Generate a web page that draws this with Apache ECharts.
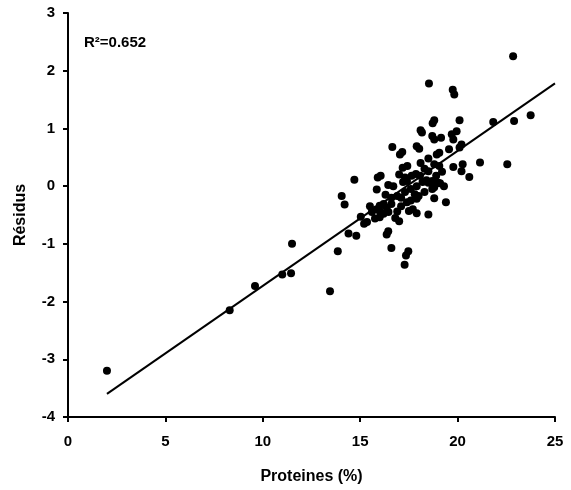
<!DOCTYPE html>
<html>
<head>
<meta charset="utf-8">
<script src="https://cdn.jsdelivr.net/npm/echarts@6/dist/echarts.min.js"></script>
<style>html,body{margin:0;padding:0;background:#fff}#c{width:571px;height:490px}</style>
</head>
<body>
<div id="c"></div>
<script>
const proteinX = [2.0,8.3,9.6,11.0,11.45,11.5,13.45,13.85,14.05,14.2,14.4,14.8,14.7,15.03,15.2,15.35,
15.76,15.85,15.85,16.0,16.0,16.0,16.05,15.9,16.2,16.2,16.36,16.45,16.6,16.44,16.7,16.9,16.9,17.0,16.44,16.36,16.6,17.47,17.35,17.28,17.2,17.4,17.3,17.64,17.86,18.07,17.4,17.6,17.9,17.5,17.7,17.9,18.5,17.9,17.8,18.0,18.2,18.4,18.7,18.9,19.1,18.8,18.7,18.8,19.4,18.5,18.9,19.0,18.5,20.6,20.2,19.78,20.26,21.15,
18.53,19.75,19.83,20.1,18.8,18.72,18.1,18.17,18.7,19.15,18.8,19.95,19.7,19.78,20.2,20.1,16.65,17.04,17.16,17.9,18.03,19.56,18.5,18.93,19.06,18.1,17.18,17.42,18.8,19.06,
22.85,22.9,21.83,22.55,23.75,
16.6,17.1,17.3,16.8,17.1,17.6,18.3,18.3,19.2,15.6,15.5,16.3,17.0,19.3];
const residY = [-3.2,-2.15,-1.73,-1.53,-1.51,-1.0,-1.82,-1.13,-0.17,-0.32,-0.82,-0.86,0.11,-0.53,-0.65,-0.62,
-0.56,-0.40,-0.06,-0.34,-0.43,-0.54,0.18,0.15,-0.31,-0.48,-0.37,-0.45,-0.31,0.02,0.0,-0.17,-0.44,-0.61,-0.78,-0.84,-1.07,-1.13,-1.2,-1.36,0.07,0.09,0.15,0.18,0.21,0.18,-0.28,-0.25,-0.22,-0.43,-0.40,-0.47,-0.49,0.0,-0.14,-0.17,0.07,0.1,0.09,0.06,0.05,-0.02,-0.05,-0.21,-0.28,0.26,0.18,0.06,0.06,0.16,0.26,0.33,0.38,0.41,
1.78,1.67,1.59,1.14,1.14,1.09,0.97,0.93,0.87,0.84,0.81,0.95,0.90,0.81,0.72,0.67,0.68,0.55,0.59,0.69,0.65,0.64,0.48,0.55,0.58,0.40,0.32,0.35,0.38,0.35,
2.25,1.13,1.11,0.38,1.23,
-0.2,-0.35,-0.1,-0.55,-0.2,-0.05,-0.1,0.3,0.25,-0.45,-0.35,-0.15,0.2,0.0];
const fitX = [2.0, 25];
const fitY = [-3.6, 1.78];
const xTicks = [0,5,10,15,20,25];
const yTicks = [-4,-3,-2,-1,0,1,2,3];
const r2Label = 'R²=0.652';
const xTitle = 'Proteines (%)';
const yTitle = 'Résidus';

const font = 'Liberation Sans, Arial, sans-serif';
const chart = echarts.init(document.getElementById('c'), null, {renderer:'canvas'});
const axisCommon = {
  axisLine:{show:true,onZero:false,lineStyle:{color:'#000',width:2}},
  axisTick:{show:true,inside:false,length:5,lineStyle:{color:'#000',width:2}},
  splitLine:{show:false},
  nameTextStyle:{color:'#000',fontWeight:'bold',fontSize:16,fontFamily:font}
};
const labelStyle = {color:'#000',fontWeight:'bold',fontSize:15,fontFamily:font};
chart.setOption({
  animation:false,
  backgroundColor:'#fff',
  grid:{left:68,right:16,top:13,bottom:72,containLabel:false},
  title:{text:r2Label,left:79,top:30,textStyle:{color:'#000',fontWeight:'bold',fontSize:15,fontFamily:font}},
  xAxis:Object.assign({type:'value',min:xTicks[0],max:xTicks[xTicks.length-1],interval:5,name:xTitle,nameLocation:'middle',nameGap:52},axisCommon,{axisLabel:Object.assign({margin:17},labelStyle)}),
  yAxis:Object.assign({type:'value',min:yTicks[0],max:yTicks[yTicks.length-1],interval:1,name:yTitle,nameLocation:'middle',nameGap:39},axisCommon,{axisLabel:Object.assign({margin:13},labelStyle)}),
  series:[
    {type:'scatter',data:proteinX.map((x,i)=>[x,residY[i]]),symbol:'circle',symbolSize:8,itemStyle:{color:'#000',opacity:1}},
    {type:'line',data:fitX.map((x,i)=>[x,fitY[i]]),symbol:'none',lineStyle:{color:'#000',width:2}}
  ]
});
</script>
</body>
</html>
